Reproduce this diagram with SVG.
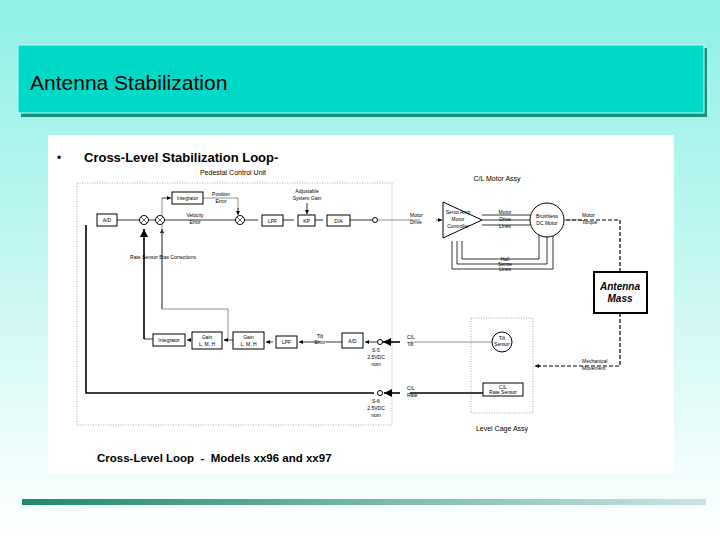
<svg xmlns="http://www.w3.org/2000/svg" width="720" height="540" viewBox="0 0 720 540">
<defs>
<linearGradient id="bg" x1="0" y1="0" x2="0" y2="1"><stop offset="0" stop-color="#8ef0e6"/><stop offset="1" stop-color="#ffffff"/></linearGradient>
<linearGradient id="bar" x1="0" y1="0" x2="1" y2="0"><stop offset="0" stop-color="#1e8a6e"/><stop offset="1" stop-color="#c8e4e4"/></linearGradient>
<marker id="a" viewBox="0 0 10 10" refX="10" refY="5" markerWidth="5" markerHeight="5" orient="auto"><path d="M0,0L10,5L0,10z" fill="#000"/></marker>
</defs>
<style>
text{font-family:"Liberation Sans",Arial,sans-serif;fill:#000}
.s{font-size:5px}
.m{font-size:6px}
.b{fill:#fff;stroke:#000;stroke-width:1}
.l{fill:none;stroke:#000;stroke-width:0.8}
.x{fill:none;stroke:#000;stroke-width:0.6}
.g{fill:none;stroke:#777;stroke-width:0.8}
.k{fill:none;stroke:#000;stroke-width:1.6}
.d{fill:none;stroke:#888;stroke-width:0.7;stroke-dasharray:1,1.5}
.dash{fill:none;stroke:#000;stroke-width:1.2;stroke-dasharray:4,2}
</style>
<rect width="720" height="540" fill="url(#bg)"/>
<rect x="21" y="48" width="686" height="69" fill="#1a8f7c"/>
<rect x="18" y="45" width="686" height="68" fill="#00d9c8" stroke="#bff" stroke-width="1"/>
<text x="30" y="90" font-size="21">Antenna Stabilization</text>
<rect x="48" y="135" width="626" height="340" fill="#fff"/>
<rect x="22" y="499" width="684" height="6" fill="url(#bar)"/>
<text x="57" y="162" font-size="12">•</text>
<text x="84" y="162" font-size="13" font-weight="bold" fill="#222">Cross-Level Stabilization Loop-</text>
<text x="233" y="175" text-anchor="middle" font-size="7">Pedestal Control Unit</text>
<rect x="77" y="183" width="315" height="242" class="d"/>
<rect x="471" y="318" width="62" height="95" class="d"/>
<g id="connectors">
<path class="k" d="M86,225V393H374"/>
<path class="l" d="M117,220H139M149,220H155M165,220H235M245,220H258M283,220H294M315,220H323M350,220H372"/>
<path class="g" d="M378,220H420M564,220H582"/>
<path class="k" d="M144,339V229" marker-end="url(#a)"/>
<path class="l" d="M144,339H153"/>
<path class="l" d="M162,309V229" marker-end="url(#a)"/>
<path class="g" d="M162,198V309H228V340"/>
<path class="l" d="M228,340H224" marker-end="url(#a)"/>
<path class="l" d="M162,198H171" marker-end="url(#a)"/>
<path class="g" d="M203,198H238V210"/>
<path class="l" d="M238,208V215" marker-end="url(#a)"/>
<path class="l" d="M307,203V214" marker-end="url(#a)"/>
<path class="l" d="M191,340H187" marker-end="url(#a)"/>
<path class="l" d="M233,340H224"/>
<path class="l" d="M273,342H266" marker-end="url(#a)"/>
<path class="l" d="M320,342H299" marker-end="url(#a)"/>
<path class="l" d="M342,342H326"/>
<path class="l" d="M377,342H365" marker-end="url(#a)"/>
<path class="k" d="M400,342H383" marker-end="url(#a)"/>
<path class="g" d="M410,342H492"/>
<path class="k" d="M400,393H384" marker-end="url(#a)"/>
<path class="k" d="M410,393H483"/>
<path class="l" d="M482,215H530M482,220H530M482,225H530"/>
<path class="l" d="M539,232V259H462V241M547,237V264H457V241M553,232V269H452V241"/>
<path class="dash" d="M566,220H620V271"/>
<path class="dash" d="M620,313V366H537"/>
<path class="l" d="M541,366H535" marker-end="url(#a)"/>
</g>
<g id="nodes">
<g id="ad1"><rect class="b" x="97" y="214" width="20" height="12"/><text class="s" x="107" y="222" text-anchor="middle">A/D</text></g>
<g id="sum1"><circle class="b" cx="144" cy="220" r="4.5"/><path class="x" d="M141,217L147,223M147,217L141,223"/></g>
<g id="sum2"><circle class="b" cx="160" cy="220" r="4.5"/><path class="x" d="M157,217L163,223M163,217L157,223"/></g>
<g id="sum3"><circle class="b" cx="240" cy="220" r="4.5"/><path class="x" d="M237,217L243,223M243,217L237,223"/></g>
<g id="integ1"><rect class="b" x="172" y="192" width="31" height="12"/><text class="s" x="187.5" y="200" text-anchor="middle">Integrator</text></g>
<text class="s" x="221" y="196" text-anchor="middle">Position</text><text class="s" x="221" y="203" text-anchor="middle">Error</text>
<text class="s" x="195" y="217" text-anchor="middle">Velocity</text><text class="s" x="195" y="224" text-anchor="middle">Error</text>
<text class="s" x="307" y="193" text-anchor="middle">Adjustable</text><text class="s" x="307" y="200" text-anchor="middle">System Gain</text>
<text class="s" x="163" y="259" text-anchor="middle">Rate Sensor Bias Corrections</text>
<g id="lpf1"><rect class="b" x="262" y="215" width="21" height="11"/><text class="s" x="272.5" y="222.5" text-anchor="middle">LPF</text></g>
<g id="kp"><rect class="b" x="298" y="215" width="17" height="11"/><text class="s" x="306.5" y="222.5" text-anchor="middle">KP</text></g>
<g id="da"><rect class="b" x="327" y="215" width="23" height="11"/><text class="s" x="338.5" y="222.5" text-anchor="middle">D/A</text></g>
<circle class="b" cx="375" cy="220" r="2.5"/>
<g id="integ2"><rect class="b" x="153" y="334" width="32" height="12"/><text class="s" x="169" y="342" text-anchor="middle">Integrator</text></g>
<g id="gain1"><rect class="b" x="192" y="332" width="30" height="17"/><text class="s" x="207" y="339" text-anchor="middle">Gain</text><text class="s" x="207" y="346" text-anchor="middle">L, M, H</text></g>
<g id="gain2"><rect class="b" x="233" y="332" width="31" height="17"/><text class="s" x="248.5" y="339" text-anchor="middle">Gain</text><text class="s" x="248.5" y="346" text-anchor="middle">L, M, H</text></g>
<g id="lpf2"><rect class="b" x="276" y="336" width="21" height="12"/><text class="s" x="286.5" y="344" text-anchor="middle">LPF</text></g>
<text class="s" x="320" y="338" text-anchor="middle">Tilt</text><text class="s" x="320" y="344" text-anchor="middle">Error</text>
<g id="ad2"><rect class="b" x="342" y="333" width="21" height="15"/><text class="s" x="352.5" y="342.5" text-anchor="middle">A/D</text></g>
<circle class="b" cx="380" cy="342" r="2.5"/><circle class="b" cx="380" cy="393" r="2.5"/>
<text class="s" x="376" y="352" text-anchor="middle">S-5</text><text class="s" x="376" y="359" text-anchor="middle">2.5VDC</text><text class="s" x="376" y="366" text-anchor="middle">nom</text>
<text class="s" x="376" y="403" text-anchor="middle">S-6</text><text class="s" x="376" y="410" text-anchor="middle">2.5VDC</text><text class="s" x="376" y="417" text-anchor="middle">nom</text>
<text class="s" x="407" y="339">C/L</text><text class="s" x="407" y="346">Tilt</text>
<text class="s" x="407" y="390">C/L</text><text class="s" x="407" y="397">Rate</text>
<text x="497" y="181" font-size="7" text-anchor="middle">C/L Motor Assy</text>
<text class="s" x="410" y="217">Motor</text><text class="s" x="410" y="224">Drive</text>
<path class="l" d="M436,220H442" marker-end="url(#a)"/>
<g id="amp"><path class="b" d="M443,202L482,220L443,238Z"/><text class="s" x="458" y="214" text-anchor="middle">Servo Amp</text><text class="s" x="458" y="221" text-anchor="middle">Motor</text><text class="s" x="458" y="228" text-anchor="middle">Controller</text></g>
<text class="s" x="505" y="214" text-anchor="middle">Motor</text><text class="s" x="505" y="221" text-anchor="middle">Drive</text><text class="s" x="505" y="228" text-anchor="middle">Lines</text>
<g id="motor"><circle class="b" cx="547" cy="220" r="17" stroke-width="1.4"/><text class="s" x="547" y="218" text-anchor="middle">Brushless</text><text class="s" x="547" y="225" text-anchor="middle">DC Motor</text></g>
<text class="s" x="505" y="261" text-anchor="middle">Hall</text><text class="s" x="505" y="266" text-anchor="middle">Sense</text><text class="s" x="505" y="271" text-anchor="middle">Lines</text>
<text class="s" x="582" y="217">Motor</text><text class="s" x="582" y="224">Torque</text>
<g id="mass"><rect x="594" y="272" width="53" height="41" fill="#fff" stroke="#000" stroke-width="2"/><text x="620" y="290" font-size="10" font-weight="bold" font-style="italic" text-anchor="middle">Antenna</text><text x="620" y="302" font-size="10" font-weight="bold" font-style="italic" text-anchor="middle">Mass</text></g>
<text class="s" x="582" y="363">Mechanical</text><text class="s" x="582" y="370">Movement</text>
<g id="tilt"><circle class="b" cx="502" cy="342" r="10" stroke-width="1.6"/><text class="s" x="502" y="340" text-anchor="middle">Tilt</text><text class="s" x="502" y="346" text-anchor="middle">Sensor</text></g>
<g id="rate"><rect class="b" x="483" y="383" width="40" height="13"/><text class="s" x="503" y="388.5" text-anchor="middle">C/L</text><text class="s" x="503" y="394" text-anchor="middle">Rate Sensor</text></g>
<text x="502" y="431" font-size="7" text-anchor="middle">Level Cage Assy</text>
</g>
<text x="97" y="462" font-size="11.5" font-weight="bold" fill="#222" xml:space="preserve">Cross-Level Loop  -  Models xx96 and xx97</text>
</svg>
